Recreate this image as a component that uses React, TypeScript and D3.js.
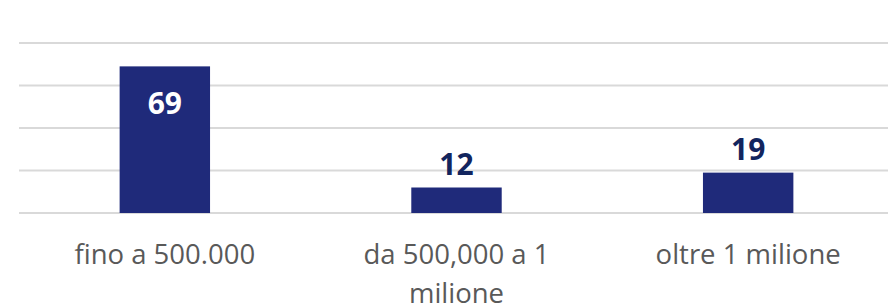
import React from 'react';
import * as d3 from 'd3';

// Data
const categories = ['fino a 500.000', 'da 500,000 a 1 milione', 'oltre 1 milione'];
const values = [69, 12, 19];
const yTicks = [0, 20, 40, 60, 80];
// labels that sit inside the bar (tall bars)
const insideThreshold = 40;

const W = 888;
const H = 306;
const margin = { top: 43, right: -6, bottom: 93, left: 19 };

const BAR_COLOR = '#1f2a7a';
const LABEL_DARK = '#12255e';
const AXIS_TEXT = '#595959';
const GRID = '#d9d9d9';
const FONT = '"Open Sans", "Noto Sans", sans-serif';

function wrapLabel(text: string, maxChars: number): string[] {
  const words = text.split(' ');
  const lines: string[] = [];
  let cur = '';
  words.forEach(w => {
    const next = cur ? cur + ' ' + w : w;
    if (next.length > maxChars && cur) {
      lines.push(cur);
      cur = w;
    } else {
      cur = next;
    }
  });
  if (cur) lines.push(cur);
  return lines;
}

export default function App() {
  const innerW = W - margin.left - margin.right;
  const innerH = H - margin.top - margin.bottom;

  const x = d3.scaleBand<string>()
    .domain(categories)
    .range([0, innerW])
    .padding(0);

  const y = d3.scaleLinear()
    .domain([0, 80])
    .range([innerH, 0]);

  const barW = x.bandwidth() * 0.31;

  return (
    <svg
      width={W}
      height={H}
      style={{ position: 'absolute', left: 0, top: 0, background: '#fff' }}
    >
      <g transform={`translate(${margin.left},${margin.top})`}>
        {/* gridlines */}
        {yTicks.map(t => (
          <line
            key={t}
            x1={0}
            x2={innerW}
            y1={y(t)}
            y2={y(t)}
            stroke={GRID}
            strokeWidth={2}
          />
        ))}

        {/* bars */}
        {categories.map((c, i) => {
          const cx = (x(c) || 0) + x.bandwidth() / 2;
          const v = values[i];
          const inside = v >= insideThreshold;
          return (
            <g key={c}>
              <rect
                x={cx - barW / 2}
                y={y(v)}
                width={barW}
                height={innerH - y(v)}
                fill={BAR_COLOR}
              />
              <text
                x={cx}
                y={inside ? y(v) + 48 : y(v) - 13}
                textAnchor="middle"
                fontFamily={FONT}
                fontWeight={700}
                fontSize={30}
                fill={inside ? '#ffffff' : LABEL_DARK}
              >
                {v}
              </text>
            </g>
          );
        })}

        {/* category labels */}
        {categories.map(c => {
          const cx = (x(c) || 0) + x.bandwidth() / 2;
          const lines = wrapLabel(c, 16);
          return (
            <text
              key={c}
              x={cx}
              y={innerH + 51}
              textAnchor="middle"
              fontFamily={FONT}
              fontSize={27.5}
              fill={AXIS_TEXT}
            >
              {lines.map((l, j) => (
                <tspan key={j} x={cx} dy={j === 0 ? 0 : 39}>{l}</tspan>
              ))}
            </text>
          );
        })}
      </g>
    </svg>
  );
}
